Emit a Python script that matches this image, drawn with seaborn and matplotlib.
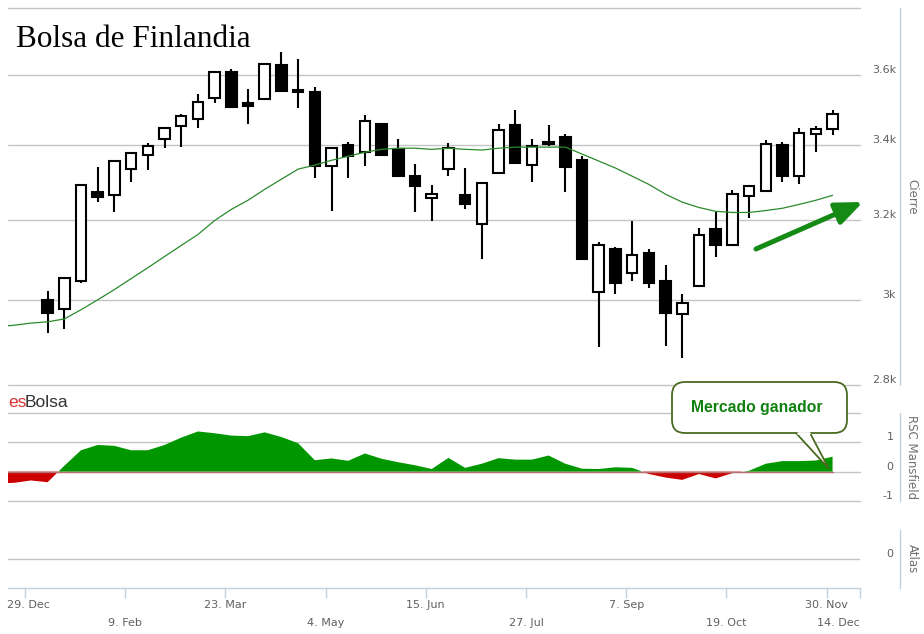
import numpy as np
import pandas as pd
import matplotlib
matplotlib.use("Agg")
import matplotlib.pyplot as plt
import matplotlib.dates as mdates
import matplotlib.transforms as mtransforms
import seaborn as sns
from matplotlib.patches import FancyBboxPatch, Polygon
from matplotlib.ticker import FixedLocator, NullLocator, FixedFormatter

sns.set_theme(style="white")
plt.rcParams["font.family"] = ["DejaVu Sans"]

# ---------------- data ----------------
candle_dates = pd.date_range("2015-01-07 12:00", periods=48, freq="7D")
open_ = [3000, 2978, 3045, 3273, 3265, 3335, 3373, 3417, 3453, 3473, 3533, 3608,
         3519, 3530, 3629, 3556, 3550, 3343, 3401, 3381, 3459, 3389, 3316, 3257,
         3335, 3265, 3189, 3324, 3456, 3346, 3403, 3423, 3359, 3020, 3125, 3067,
         3115, 3045, 2966, 3035, 3176, 3135, 3262, 3276, 3401, 3316, 3431, 3445]
high = [3022, 3054, 3292, 3340, 3359, 3381, 3406, 3448, 3487, 3544, 3608, 3617,
        3559, 3632, 3668, 3647, 3565, 3392, 3409, 3485, 3459, 3417, 3348, 3292,
        3406, 3338, 3297, 3459, 3499, 3417, 3456, 3431, 3370, 3143, 3132, 3197,
        3127, 3087, 3015, 3181, 3220, 3278, 3289, 3414, 3409, 3448, 3453, 3499]
low = [2921, 2930, 3040, 3247, 3220, 3300, 3332, 3392, 3395, 3448, 3519, 3507,
       3459, 3530, 3553, 3504, 3311, 3223, 3311, 3343, 3373, 3316, 3220, 3197,
       3316, 3228, 3100, 3324, 3351, 3300, 3398, 3273, 3102, 2888, 3015, 3045,
       3030, 2890, 2862, 3035, 3107, 3135, 3205, 3276, 3300, 3294, 3381, 3428]
close = [2969, 3054, 3292, 3260, 3357, 3378, 3398, 3448, 3482, 3522, 3608, 3507,
         3510, 3632, 3553, 3550, 3343, 3392, 3370, 3468, 3373, 3316, 3289, 3268,
         3392, 3241, 3297, 3442, 3351, 3398, 3409, 3340, 3102, 3135, 3042, 3110,
         3042, 2969, 2993, 3161, 3135, 3268, 3289, 3403, 3316, 3434, 3445, 3487]

line_dates = pd.date_range("2014-12-17 12:00", periods=51, freq="7D")
ma_values = [2935, 2939, 2944, 2947, 2954, 2976, 3000, 3025, 3052, 3079, 3107, 3135,
             3163, 3199, 3228, 3252, 3281, 3308, 3335, 3346, 3359, 3370, 3381, 3389,
             3392, 3392, 3389, 3392, 3389, 3387, 3392, 3395, 3395, 3395, 3395, 3376,
             3357, 3338, 3316, 3294, 3268, 3247, 3233, 3223, 3220, 3220, 3225, 3231,
             3241, 3252, 3265]
rsc_values = [-0.40, -0.38, -0.30, -0.36, 0.20, 0.73, 0.91, 0.88, 0.73, 0.73, 0.91, 1.16,
              1.37, 1.31, 1.23, 1.21, 1.34, 1.18, 0.97, 0.39, 0.45, 0.37, 0.62, 0.44,
              0.32, 0.22, 0.09, 0.47, 0.13, 0.27, 0.46, 0.41, 0.41, 0.55, 0.27, 0.10,
              0.09, 0.15, 0.13, -0.08, -0.20, -0.28, -0.08, -0.23, -0.05, 0.03, 0.27,
              0.36, 0.36, 0.38, 0.51]

price_ticks = [2800, 3000, 3200, 3400, 3600, 3800]
price_labels = ["2.8k", "3k", "3.2k", "3.4k", "3.6k", ""]
rsc_ticks = [-1, 0, 1, 2]
rsc_labels = ["-1", "0", "1", ""]
row1_dates = ["2014-12-29", "2015-03-23", "2015-06-15", "2015-09-07", "2015-11-30"]
row1_labels = ["29. Dec", "23. Mar", "15. Jun", "7. Sep", "30. Nov"]
row2_dates = ["2015-02-09", "2015-05-04", "2015-07-27", "2015-10-19", "2015-12-14"]
row2_labels = ["9. Feb", "4. May", "27. Jul", "19. Oct", "14. Dec"]

# ---------------- figure ----------------
W, H = 924, 634
fig = plt.figure(figsize=(W / 100, H / 100), dpi=100)
fig.patch.set_facecolor("white")

def px_axes(left, top, right, bottom):
    return fig.add_axes([left / W, 1 - bottom / H, (right - left) / W, (bottom - top) / H])

ax_main = px_axes(8, 8, 860, 385)
ax_rsc = px_axes(8, 413, 860, 501)
ax_atl = px_axes(8, 530, 860, 588)

x0 = mdates.date2num(pd.Timestamp("2014-12-29")) - 7.1
x1 = mdates.date2num(pd.Timestamp("2015-12-14"))

grid_c = "#c4c4c4"
axis_c = "#c0d0e0"
label_c = "#606060"

for ax in (ax_main, ax_rsc, ax_atl):
    ax.set_facecolor("none")
    ax.set_xlim(x0, x1)
    for s in ax.spines.values():
        s.set_visible(False)
    ax.grid(False)
    ax.yaxis.tick_right()
    ax.tick_params(axis="y", length=0, labelsize=8, labelcolor=label_c)

# ----- main candlestick panel -----
ax_main.set_yscale("log")
ax_main.set_ylim(2800, 3800)
ax_main.yaxis.set_major_locator(FixedLocator(price_ticks))
ax_main.yaxis.set_major_formatter(FixedFormatter(price_labels))
ax_main.yaxis.set_minor_locator(NullLocator())
ax_main.tick_params(axis="y", pad=26)
for t in price_ticks:
    ax_main.axhline(t, color=grid_c, lw=1, zorder=0, clip_on=False)

cx = mdates.date2num(candle_dates)
o = np.array(open_, float)
c = np.array(close, float)
ax_main.vlines(cx, low, high, colors="black", lw=1.5, zorder=2)
up = c >= o
body_lo = np.minimum(o, c)
body_h = np.maximum(np.abs(c - o), 0.5)
ax_main.bar(cx[up], body_h[up], bottom=body_lo[up], width=4.4, color="white",
            edgecolor="black", linewidth=1.5, zorder=3)
ax_main.bar(cx[~up], body_h[~up], bottom=body_lo[~up], width=4.4, color="black",
            edgecolor="black", linewidth=1.5, zorder=3)

ma_df = pd.DataFrame({"date": mdates.date2num(line_dates), "ma": ma_values})
sns.lineplot(data=ma_df, x="date", y="ma", ax=ax_main, color="#2b8a2b", lw=0.9, zorder=4)
ax_main.set_xlabel("")
ax_main.set_ylabel("")
ax_main.set_xticks([])

# ----- RSC Mansfield panel -----
rx = mdates.date2num(line_dates)
rv = np.array(rsc_values)
ax_rsc.set_ylim(-1, 2)
ax_rsc.yaxis.set_major_locator(FixedLocator(rsc_ticks))
ax_rsc.yaxis.set_major_formatter(FixedFormatter(rsc_labels))
ax_rsc.tick_params(axis="y", pad=24)
for t in rsc_ticks:
    ax_rsc.axhline(t, color=grid_c, lw=1, zorder=0, clip_on=False)
ax_rsc.fill_between(rx, rv, 0, where=rv >= 0, interpolate=True, color="#009600", lw=0, zorder=2)
ax_rsc.fill_between(rx, rv, 0, where=rv <= 0, interpolate=True, color="#cc0000", lw=0, zorder=2)
ax_rsc.plot([x0, rx[-1]], [0, 0], color="#b87070", lw=1, zorder=3)
ax_rsc.set_xticks([])

# ----- Atlas panel -----
ax_atl.set_ylim(-1, 1)
ax_atl.yaxis.set_major_locator(FixedLocator([0]))
ax_atl.yaxis.set_major_formatter(FixedFormatter(["0"]))
ax_atl.tick_params(axis="y", pad=24)
ax_atl.axhline(0, color=grid_c, lw=1, zorder=0)
ax_atl.spines["bottom"].set_visible(True)
ax_atl.spines["bottom"].set_color(axis_c)
ax_atl.spines["bottom"].set_linewidth(1)

r1 = mdates.date2num(pd.to_datetime(row1_dates))
r2 = mdates.date2num(pd.to_datetime(row2_dates))
ax_atl.set_xticks(r1)
ax_atl.set_xticklabels(row1_labels)
ax_atl.set_xticks(r2, minor=True)
ax_atl.set_xticklabels(row2_labels, minor=True)
ax_atl.tick_params(axis="x", which="both", direction="out", length=7.2, width=1,
                   color=axis_c, labelcolor=label_c, labelsize=8, bottom=True)
ax_atl.tick_params(axis="x", which="major", pad=1.5)
ax_atl.tick_params(axis="x", which="minor", pad=14.5)
ax_atl.xaxis.get_minorticklabels()[-1].set_horizontalalignment("right")
first = ax_atl.xaxis.get_majorticklabels()[0]
first.set_transform(first.get_transform() +
                    mtransforms.ScaledTranslation(3.5 / 100, 0, fig.dpi_scale_trans))

for ax in (ax_main, ax_rsc, ax_atl):
    for lbl in ax.get_yticklabels():
        lbl.set_verticalalignment("bottom")
        lbl.set_horizontalalignment("right")

# ----- overlay for decorations (pixel coordinates) -----
ov = fig.add_axes([0, 0, 1, 1], zorder=10)
ov.set_xlim(0, W)
ov.set_ylim(H, 0)
ov.axis("off")
ov.patch.set_visible(False)

for (ya, yb) in [(8, 385), (413, 501), (530, 588)]:
    ov.plot([900, 900], [ya, yb], color=axis_c, lw=1)
ov.text(912, 197, "Cierre", rotation=270, ha="center", va="center", fontsize=8.5, color="#707070")
ov.text(912, 457, "RSC Mansfield", rotation=270, ha="center", va="center", fontsize=8.5, color="#707070")
ov.text(912, 559, "Atlas", rotation=270, ha="center", va="center", fontsize=8.5, color="#707070")

ov.text(16, 47, "Bolsa de Finlandia", family="Liberation Serif", fontsize=22.5,
        color="black", ha="left", va="baseline")

ov.text(8, 407, "es", family="Liberation Sans", fontsize=12.5, color="#dd3333",
        ha="left", va="baseline")
ov.text(25, 407, "Bolsa", family="Liberation Sans", fontsize=12.5, color="#333333",
        ha="left", va="baseline")

# callout
box_c = "#4a6a20"
ov.add_patch(FancyBboxPatch((672, 382), 175, 51, boxstyle="round,pad=0,rounding_size=13",
                            facecolor="white", edgecolor=box_c, lw=1.3))
ov.add_patch(Polygon([(796, 433), (829, 469), (810, 433)], closed=False,
                     facecolor="white", edgecolor=box_c, lw=1.3))
ov.plot([797.5, 808.5], [433, 433], color="white", lw=2)
ov.text(757, 412, "Mercado ganador", family="Liberation Sans", fontweight="bold",
        fontsize=11.3, color="#118011", ha="center", va="baseline")

# green arrow
ov.annotate("", xy=(863, 202), xytext=(756, 249),
            arrowprops=dict(arrowstyle="-|>,head_length=0.6,head_width=0.25",
                            color="#158a15", lw=3.6, mutation_scale=27,
                            shrinkA=0, shrinkB=0))

fig.savefig("out.png", dpi=100, facecolor="white")
